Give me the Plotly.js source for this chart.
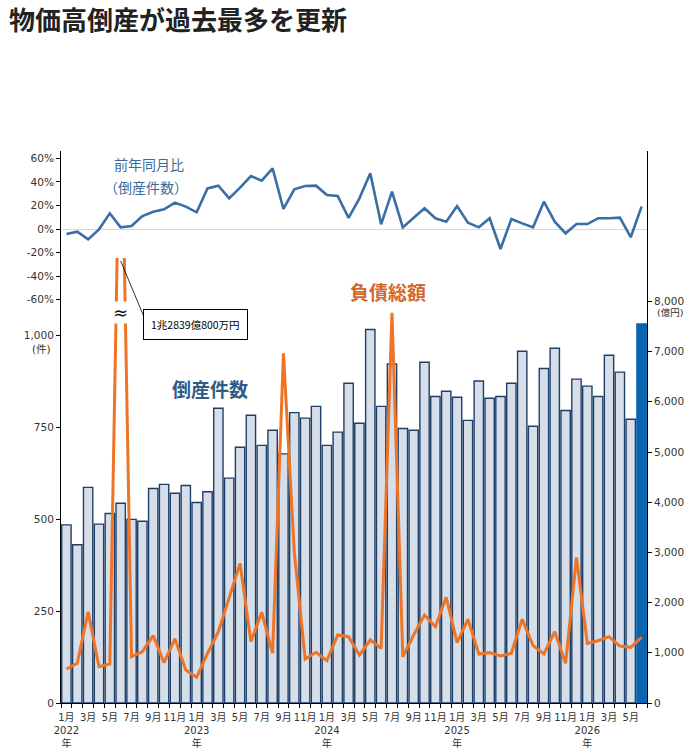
<!DOCTYPE html>
<html><head><meta charset="utf-8">
<script src="https://cdn.plot.ly/plotly-3.0.1.min.js"></script>
<style>body{margin:0;background:#fff}#chart{width:700px;height:756px}</style>
</head><body><div id="chart"></div>
<script>
// ---- data ----
const periods = [
 '2022-01','2022-02','2022-03','2022-04','2022-05','2022-06','2022-07','2022-08','2022-09','2022-10','2022-11','2022-12',
 '2023-01','2023-02','2023-03','2023-04','2023-05','2023-06','2023-07','2023-08','2023-09','2023-10','2023-11','2023-12',
 '2024-01','2024-02','2024-03','2024-04','2024-05','2024-06','2024-07','2024-08','2024-09','2024-10','2024-11','2024-12',
 '2025-01','2025-02','2025-03','2025-04','2025-05','2025-06','2025-07','2025-08','2025-09','2025-10','2025-11','2025-12',
 '2026-01','2026-02','2026-03','2026-04','2026-05','2026-06'];
// 倒産件数 (件)
const bankruptcies = [484,430,586,486,515,543,499,494,583,594,570,591,
 545,574,801,611,695,782,700,741,677,789,774,806,
 700,736,869,760,1015,806,921,746,741,926,833,847,
 831,768,875,828,833,869,956,752,909,964,795,880,
 861,833,945,899,771,1030];
// 負債総額 (億円)
const debtTotal = [677,790,1819,723,777,12839,922,1022,1341,803,1281,657,
 512,990,1420,2118,2782,1222,1806,990,6966,3000,876,1010,
 843,1355,1321,956,1255,1089,7775,922,1355,1753,1520,2105,
 1202,1667,976,1003,936,990,1667,1142,976,1420,790,2902,
 1189,1241,1321,1135,1109,1309];
// 前年同月比 (倒産件数, %)
const yoyPct = [-4.2,-2.3,-8.8,-0.3,13.3,1.4,2.5,11.0,14.7,16.7,22.4,19.0,
 14.2,34.5,36.8,26.0,35.1,45.0,41.1,51.5,17.0,33.7,36.5,36.8,
 28.9,28.0,9.5,26.0,47.3,4.0,31.7,1.4,9.6,17.6,9.1,6.2,
 19.5,5.4,1.4,9.1,-17.0,8.5,4.8,1.4,23.2,6.2,-3.7,4.2,
 4.2,9.1,9.1,9.6,-7.0,19.0];
const yoyTickVals = [60,40,20,0,-20,-40,-60];
const yoyTickText = ['60%','40%','20%','0%','-20%','-40%','-60%'];
const countTickVals = [0,250,500,750,1000];
const debtTickVals = [0,1000,2000,3000,4000,5000,6000,7000,8000];
const peakLabel = '1兆2839億800万円';

// ---- derived ----
const xs = periods.map((_, i) => i);
const tickVals = [], tickText = [];
periods.forEach((p, i) => {
  const [y, m] = p.split('-').map(Number);
  if (m % 2 === 1) {
    tickVals.push(i);
    tickText.push(m === 1 ? `${m}月<br>${y}<br>年` : `${m}月`);
  }
});
const last = bankruptcies.length - 1;
const barFill = bankruptcies.map((_, i) => i === last ? '#0a64b0' : '#d5dee9');
const barLine = bankruptcies.map((_, i) => i === last ? '#0a64b0' : '#203f66');
const peakIdx = debtTotal.indexOf(Math.max(...debtTotal));

// pixel helpers for text placement (plot area 61..647 x 151..703)
const L = 61, R = 647, T = 151, B = 703;
const px = x => (x - L) / (R - L);
const py = y => (B - y) / (B - T);

const FONT = 'DejaVu Sans, Noto Sans CJK JP, sans-serif';
const JP = 'Noto Sans CJK JP, sans-serif';

const traces = [
  {type:'bar', x:xs, y:bankruptcies, xaxis:'x', yaxis:'y2',
   marker:{color:barFill, line:{color:barLine, width:1.4}}, hoverinfo:'skip'},
  {type:'scatter', mode:'lines', x:xs, y:debtTotal, xaxis:'x', yaxis:'y3',
   line:{color:'#ef7426', width:3}, hoverinfo:'skip'},
  {type:'scatter', mode:'lines', x:xs, y:yoyPct, xaxis:'x', yaxis:'y',
   line:{color:'#3a6ea4', width:2.6}, hoverinfo:'skip'}
];

function txt(x, y, text, font, extra) {
  return Object.assign({xref:'paper', yref:'paper', x:px(x), y:py(y), xanchor:'center', yanchor:'middle',
    text, showarrow:false, font}, extra || {});
}

const layout = {
  width:700, height:756,
  margin:{l:L, r:700-R, t:T, b:756-B},
  paper_bgcolor:'#fff', plot_bgcolor:'rgba(0,0,0,0)',
  font:{family:FONT, size:10.5, color:'#333'},
  showlegend:false, bargap:0.14,
  title:{text:'物価高倒産が過去最多を更新', x:0.013, xanchor:'left', y:1 - 21/756, yanchor:'middle',
         font:{family:JP, size:26, weight:700, color:'#222'}},
  xaxis:{anchor:'y2', range:[-0.5, periods.length - 0.5], tickmode:'array', tickvals:tickVals, ticktext:tickText,
         ticks:'', showline:true, linecolor:'#000', linewidth:1, showgrid:false, zeroline:false, tickangle:0,
         ticklabelstandoff:5,
         tickfont:{family:FONT, size:10, color:'#333'},
         minor:{tick0:-0.5, dtick:1, ticks:'outside', ticklen:4, tickcolor:'#000', showgrid:false}},
  yaxis:{domain:[py(305), 1], range:[(229-305)/1.1775, (229-151)/1.1775], anchor:'x',
         tickmode:'array', tickvals:yoyTickVals, ticktext:yoyTickText,
         showline:true, mirror:true, linecolor:'#000', linewidth:1, ticks:'outside', ticklen:4, tickcolor:'#000',
         showgrid:false, zeroline:true, zerolinecolor:'#cfdcea', zerolinewidth:1},
  yaxis2:{domain:[0, py(258)], range:[0, (B-258)/0.368], anchor:'x',
          tickmode:'array', tickvals:countTickVals, tickformat:',d',
          showline:true, linecolor:'#000', linewidth:1, ticks:'outside', ticklen:4, tickcolor:'#000',
          showgrid:false, zeroline:false},
  yaxis3:{overlaying:'y2', side:'right', anchor:'x', range:[0, (B-258)/0.0502],
          tickmode:'array', tickvals:debtTickVals, tickformat:',d',
          showline:true, linecolor:'#000', linewidth:1, ticks:'outside', ticklen:4, tickcolor:'#000',
          showgrid:false, zeroline:false},
  shapes:[
    {type:'line', xref:'x', yref:'paper', x0:peakIdx, y0:py(261), x1:peakIdx + 25/((R-L)/periods.length), y1:py(321),
     line:{color:'#000', width:0.8}}
  ],
  annotations:[
    txt(149, 164, '前年同月比', {family:JP, size:14, color:'#3b6b9b'}),
    txt(146, 187, '（倒産件数）', {family:JP, size:14, color:'#3b6b9b'}),
    txt(210, 388, '倒産件数', {family:JP, size:19, weight:700, color:'#2f5b88'}),
    txt(388, 291, '負債総額', {family:JP, size:19, weight:700, color:'#d4692c'}),
    txt(41, 349, '(件)', {family:FONT, size:10.5, color:'#333'}),
    txt(670, 312, '(億円)', {family:FONT, size:9.5, color:'#333'}),
    txt(195, 324, peakLabel, {family:JP, size:10.5, color:'#000'},
        {bordercolor:'#000', borderwidth:1, borderpad:7, bgcolor:'#fff'}),
    {xref:'x', yref:'paper', x:peakIdx, y:py(312), xanchor:'center', yanchor:'middle', text:'≈', showarrow:false,
     bgcolor:'#fff', borderpad:0, font:{family:'DejaVu Sans', size:18, color:'#111'}}
  ]
};

Plotly.newPlot('chart', traces, layout, {staticPlot:true, displayModeBar:false});
</script>
</body></html>
